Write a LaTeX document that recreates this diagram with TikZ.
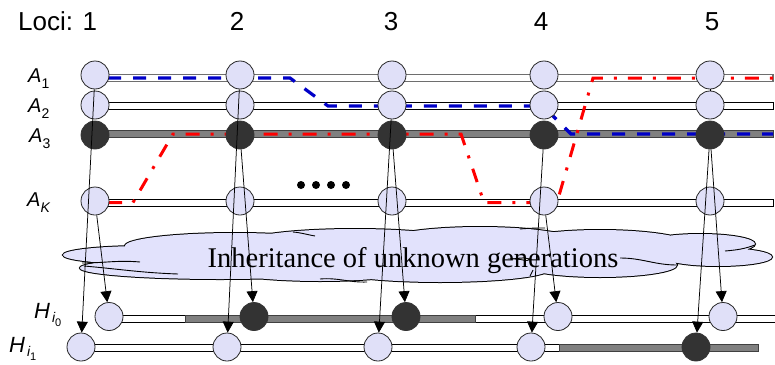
\documentclass[tikz,border=0pt]{standalone}
\usepackage{fontspec}
\usetikzlibrary{arrows.meta}
\newfontfamily\arialf{Liberation Sans}
\newfontfamily\timesf{Liberation Serif}
\definecolor{lcLav}{HTML}{E0E0F8}
\definecolor{lcCloud}{HTML}{E2E2FC}
\definecolor{lcDark}{HTML}{333333}
\definecolor{lcGrey}{HTML}{808080}
\definecolor{lcRim}{HTML}{6E6E6E}
\definecolor{lcBlue}{HTML}{0000C8}
\definecolor{lcRed}{HTML}{FF0000}
\newcommand{\hapl}[1]{{\fontsize{20}{20}\selectfont\arialf\itshape A}\raisebox{-6pt}{\fontsize{14}{14}\selectfont\arialf #1}}
\newcommand{\indl}[1]{{\fontsize{22}{22}\selectfont\arialf\itshape H}\hspace{2pt}\raisebox{-4pt}{\fontsize{14}{14}\selectfont\arialf\itshape i}\raisebox{-8pt}{\fontsize{11}{11}\selectfont\arialf #1}}
\newcommand{\cloudpuffs}{
  (145,255) ellipse [x radius=82pt, y radius=9pt]
  (220,268) ellipse [x radius=140pt, y radius=11pt]
  (235,246) ellipse [x radius=110pt, y radius=13pt]
  (355,244) ellipse [x radius=115pt, y radius=15pt]
  (480,243) ellipse [x radius=100pt, y radius=16pt]
  (600,247) ellipse [x radius=95pt, y radius=17pt]
  (700,244) ellipse [x radius=55pt, y radius=10pt]
  (718,257) ellipse [x radius=54pt, y radius=9pt]
  (600,265) ellipse [x radius=77pt, y radius=12pt]
  (440,269) ellipse [x radius=110pt, y radius=13pt]
  (320,268) ellipse [x radius=100pt, y radius=13pt]
}
\tikzset{
  locus/.style={circle, draw=black!85, line width=0.8pt, fill=lcLav,
    minimum size=28pt, inner sep=0pt},
  dlocus/.style={locus, draw=lcDark, fill=lcDark},
  chrom/.style={draw=black, line width=0.8pt, fill=white},
  chromg/.style={chrom, fill=lcGrey, draw=black!75},
  chromr/.style={chrom, draw=lcRim, line width=1.6pt},
  blueseg/.style={draw=lcBlue, line width=3.2pt, dash pattern=on 13pt off 12pt},
  redseg/.style={draw=lcRed, line width=3pt, dash pattern=on 14pt off 11pt on 3pt off 11pt},
  inher/.style={-{Triangle[length=11pt, width=11pt]}, line width=0.75pt},
  puffline/.style={line width=0.9pt},
  lbl/.style={inner sep=0pt, anchor=base west},
  locnum/.style={inner sep=0pt, anchor=base, font=\fontsize{26}{26}\selectfont\arialf},
  dotb/.style={circle, fill=black, minimum size=8pt, inner sep=0pt},
}
\begin{document}
\begin{tikzpicture}[x=1pt, y=-1pt]
  \useasboundingbox (0,0) rectangle (775,364);

  % locus numbers
  \node[lbl, font=\fontsize{26}{26}\selectfont\arialf] (loci) at (18,30) {Loci: 1};
  \node[locnum] (n2) at (237,30) {2};
  \node[locnum] (n3) at (391,30) {3};
  \node[locnum] (n4) at (541,30) {4};
  \node[locnum] (n5) at (712,30) {5};

  % haplotype labels
  \node[lbl] (la1) at (28,82)  {\hapl{1}};
  \node[lbl] (la2) at (28,112) {\hapl{2}};
  \node[lbl] (la3) at (29,142) {\hapl{3}};
  \node[lbl] (lak) at (27,206) {\hapl{\itshape K}};
  \node[lbl] (lh0) at (34,318) {\indl{0}};
  \node[lbl] (lh1) at (9,352) {\indl{1}};

  % chromosomes
  \draw[chromr] (95,74.5) rectangle (773,81.5);
  \draw[chrom]  (95,102.5) rectangle (773,109.5);
  \draw[chromg] (95,130.5) rectangle (773,137.5);
  \draw[chrom]  (95,199) rectangle (773,206);
  \draw[chrom]  (109,315) rectangle (778,322);
  \draw[chromg] (185,315) rectangle (475,322);
  \draw[chrom]  (81,344) rectangle (758,351);
  \draw[chromg] (559,344) rectangle (758,351);

  % recombination paths
  \draw[blueseg] (108,78) -- (290,78) -- (328,106) -- (543,106) -- (571,134) -- (773,134);
  \draw[redseg] (108,202.5) -- (133,202.5) -- (173,134) -- (461,134) -- (484,202.5)
    -- (557,202.5) -- (593,78) -- (773,78);

  % loci of the A haplotypes
  \node[locus]  (a1-1) at (95,75) {};  \node[locus]  (a1-2) at (240,75) {};
  \node[locus]  (a1-3) at (392,75) {}; \node[locus]  (a1-4) at (544,75) {};
  \node[locus]  (a1-5) at (710,75) {};
  \node[locus]  (a2-1) at (95,105) {};  \node[locus]  (a2-2) at (240,105) {};
  \node[locus]  (a2-3) at (392,105) {}; \node[locus]  (a2-4) at (544,105) {};
  \node[locus]  (a2-5) at (710,105) {};
  \node[dlocus] (a3-1) at (95,135) {};  \node[dlocus] (a3-2) at (240,135) {};
  \node[dlocus] (a3-3) at (392,135) {}; \node[dlocus] (a3-4) at (544,135) {};
  \node[dlocus] (a3-5) at (710,135) {};
  \node[locus]  (ak-1) at (95,201) {};  \node[locus]  (ak-2) at (240,201) {};
  \node[locus]  (ak-3) at (392,201) {}; \node[locus]  (ak-4) at (544,201) {};
  \node[locus]  (ak-5) at (710,201) {};

  % loci of the H haplotypes
  \node[locus]  (h0-1) at (109,316.5) {}; \node[dlocus] (h0-2) at (254,316.5) {};
  \node[dlocus] (h0-3) at (406,316.5) {}; \node[locus]  (h0-4) at (558,316.5) {};
  \node[locus]  (h0-5) at (723,316.5) {};
  \node[locus]  (h1-1) at (81,347) {};  \node[locus]  (h1-2) at (227,347) {};
  \node[locus]  (h1-3) at (378,347) {}; \node[locus]  (h1-4) at (531,347) {};
  \node[dlocus] (h1-5) at (696,347) {};

  \node[dotb] (d1) at (301,185) {}; \node[dotb] (d2) at (316,185) {};
  \node[dotb] (d3) at (331,185) {}; \node[dotb] (d4) at (346,185) {};

  % cloud
  \draw[black, line width=2pt] \cloudpuffs;
  \fill[lcCloud] \cloudpuffs;
  \draw[puffline] (82,263) to[out=0, in=175] (140,262);
  \draw[puffline] (84,266) to[out=-5, in=178] (178,274);
  \draw[puffline] (293,232) to[out=-5, in=170] (315,236);
  \draw[puffline] (320,279) to[out=5, in=182] (367,282);
  \draw[puffline] (520,229) to[out=5, in=180] (545,228);
  \draw[puffline] (620,258) to[out=0, in=180] (677,265);
  \draw[puffline] (725,251) to[out=5, in=200] (755,245);
  \draw[puffline] (530,276) to[out=80, in=-100] (533,270);
  \node[inner sep=0pt, anchor=base, font=\fontsize{28.5}{28.5}\selectfont\timesf] (gen)
    at (413,267) {Inheritance of unknown generations};

  % inheritance
  \draw[inher] (a1-1) -- (h1-1);
  \draw[inher] (ak-1) -- (h0-1);
  \draw[inher] (a1-2) -- (h1-2);
  \draw[inher] (a3-2) -- (h0-2);
  \draw[inher] (a2-3) -- (h1-3);
  \draw[inher] (a3-3) -- (h0-3);
  \draw[inher] (a3-4) -- (h1-4);
  \draw[inher] (ak-4) -- (h0-4);
  \draw[inher] (a3-5) -- (h1-5);
  \draw[inher] (a3-5) -- (h0-5);
  \draw[line width=0.7pt] (a1-5) -- (a2-5);
\end{tikzpicture}
\end{document}
